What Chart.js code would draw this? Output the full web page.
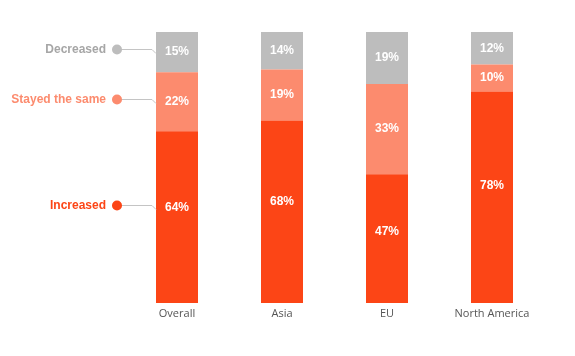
<!DOCTYPE html>
<html>
<head>
<meta charset="utf-8">
<script src="https://cdn.jsdelivr.net/npm/chart.js@4/dist/chart.umd.min.js"></script>
<style>
html,body{margin:0;padding:0;background:#fff;}
#wrap{width:575px;height:356px;position:relative;}
</style>
</head>
<body>
<div id="wrap"><canvas id="c"></canvas></div>
<script>
const categories = ["Overall", "Asia", "EU", "North America"];
const seriesNames = ["Increased", "Stayed the same", "Decreased"];
const increased = [64, 68, 47, 78];
const stayedSame = [22, 19, 33, 10];
const decreased = [15, 14, 19, 12];
const colors = ["#fc4516", "#fc8b6e", "#bdbdbd"];
const legendTextColors = ["#fc4516", "#fc8b6e", "#a6a6a6"];

const raw = [increased, stayedSame, decreased];
const totals = categories.map((_, i) => increased[i] + stayedSame[i] + decreased[i]);
const datasets = raw.map((arr, d) => ({
  label: seriesNames[d],
  data: arr.map((v, i) => v / totals[i] * 100),
  rawValues: arr,
  backgroundColor: colors[d],
  borderWidth: 0,
  barPercentage: 0.4,
  categoryPercentage: 1.0
}));

function labelY(d, el) {
  if (d === 0) return el.base - 0.555 * (el.base - el.y);
  return (el.y + el.base) / 2;
}

const labelsPlugin = {
  id: 'valueLabels',
  afterDatasetsDraw(chart) {
    const ctx = chart.ctx;
    ctx.save();
    ctx.font = 'bold 12px "Liberation Sans", Arial, sans-serif';
    ctx.fillStyle = '#ffffff';
    ctx.textAlign = 'center';
    ctx.textBaseline = 'middle';
    chart.data.datasets.forEach((ds, d) => {
      const meta = chart.getDatasetMeta(d);
      meta.data.forEach((el, i) => {
        ctx.fillText(ds.rawValues[i] + '%', el.x, labelY(d, el));
      });
    });
    ctx.restore();
  }
};

const sideLegend = {
  id: 'sideLegend',
  afterDatasetsDraw(chart) {
    const ctx = chart.ctx;
    ctx.save();
    chart.data.datasets.forEach((ds, d) => {
      const el = chart.getDatasetMeta(d).data[0];
      const y = Math.round(labelY(d, el) - 3) + 0.5;
      const barLeft = el.x - el.width / 2;
      const dotX = 117;
      ctx.strokeStyle = '#c4c4c4';
      ctx.lineWidth = 1;
      ctx.beginPath();
      ctx.moveTo(dotX, y);
      ctx.lineTo(barLeft - 4, y);
      ctx.lineTo(barLeft, y + 4);
      ctx.stroke();
      ctx.fillStyle = colors[d];
      ctx.beginPath();
      ctx.arc(dotX, y, 5, 0, Math.PI * 2);
      ctx.fill();
      ctx.font = 'bold 12px "Liberation Sans", Arial, sans-serif';
      ctx.fillStyle = legendTextColors[d];
      ctx.textAlign = 'right';
      ctx.textBaseline = 'middle';
      ctx.fillText(ds.label, 106, y);
    });
    ctx.restore();
  }
};

new Chart(document.getElementById('c'), {
  type: 'bar',
  data: { labels: categories, datasets: datasets },
  options: {
    responsive: true,
    maintainAspectRatio: false,
    animation: false,
    layout: { padding: { left: 124.5, right: 30.5, top: 32, bottom: 31.8 } },
    plugins: { legend: { display: false }, tooltip: { enabled: false } },
    scales: {
      x: {
        stacked: true,
        grid: { display: false, drawTicks: false, tickLength: 0 },
        border: { display: false },
        ticks: {
          padding: 4,
          color: '#555555',
          font: { family: '"Open Sans", sans-serif', size: 11 }
        }
      },
      y: { stacked: true, display: false, min: 0, max: 100 }
    }
  },
  plugins: [labelsPlugin, sideLegend]
});
</script>
</body>
</html>
